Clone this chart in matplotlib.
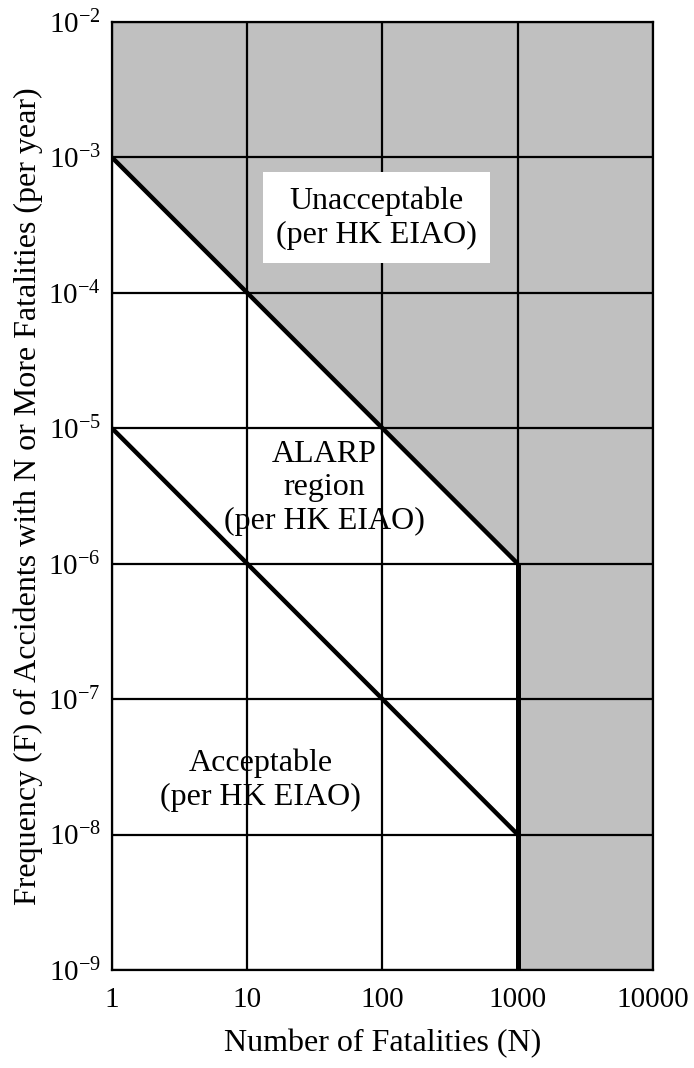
import matplotlib
matplotlib.use('Agg')
import matplotlib.pyplot as plt
from matplotlib.patches import Rectangle

plt.rcParams['font.family'] = ['Liberation Serif', 'DejaVu Serif']
plt.rcParams['mathtext.fontset'] = 'custom'
plt.rcParams['mathtext.rm'] = 'Liberation Serif'

# criterion lines (N, F)
upper_n = [1, 1000]
upper_f = [1e-3, 1e-6]
lower_n = [1, 1000]
lower_f = [1e-5, 1e-8]
cut_n = [1000, 1000]
cut_f = [1e-6, 1e-9]

# shaded unacceptable region boundary
shade_n = [1, 1000, 1000, 10000]
shade_f = [1e-3, 1e-6, 1e-9, 1e-9]

x_ticks = [1, 10, 100, 1000, 10000]
x_labels = ['1', '10', '100', '1000', '10000']
y_exps = [-9, -8, -7, -6, -5, -4, -3, -2]

fig = plt.figure(figsize=(6.94, 10.68), dpi=100)
ax = fig.add_axes([0.1614, 0.0918, 0.7795, 0.8876])
ax.set_xscale('log')
ax.set_yscale('log')
ax.set_xlim(1, 10000)
ax.set_ylim(1e-9, 1e-2)

ax.fill_between(shade_n, shade_f, 1e-2, color='#c0c0c0', linewidth=0, zorder=1)

ax.set_xticks(x_ticks)
ax.set_xticklabels(x_labels)
ax.set_yticks([10.0 ** e for e in y_exps])
ax.set_yticklabels([r'$\mathregular{10^{%d}}$' % e for e in y_exps])
ax.minorticks_off()
ax.tick_params(length=0, labelsize=21)
ax.tick_params(axis='x', pad=12)
ax.tick_params(axis='y', pad=8)
ax.grid(True, color='black', linewidth=1.6, zorder=2)
ax.set_axisbelow(False)
for s in ax.spines.values():
    s.set_linewidth(1.6)
    s.set_zorder(3)

ax.plot(upper_n, upper_f, color='black', linewidth=3.2, zorder=4, solid_capstyle='butt')
ax.plot(lower_n, lower_f, color='black', linewidth=3.2, zorder=4, solid_capstyle='butt')
ax.plot(cut_n, cut_f, color='black', linewidth=3.6, zorder=4, solid_capstyle='butt')

# white label box behind "Unacceptable"
ax.add_patch(Rectangle((0.279, 0.746), 0.42, 0.096, transform=ax.transAxes,
                       facecolor='white', edgecolor='none', zorder=5))
ax.text(90, 10 ** -3.45, 'Unacceptable\n(per HK EIAO)', ha='center', va='center', fontsize=23,
        linespacing=1.2, zorder=6)
ax.text(37, 10 ** -5.44, 'ALARP\nregion\n(per HK EIAO)', ha='center', va='center', fontsize=23,
        linespacing=1.2, zorder=6)
ax.text(12.6, 10 ** -7.60, 'Acceptable\n(per HK EIAO)', ha='center', va='center', fontsize=23,
        linespacing=1.2, zorder=6)

ax.set_xlabel('Number of Fatalities (N)', fontsize=23, labelpad=12)
ax.set_ylabel('Frequency (F) of Accidents with N or More Fatalities (per year)', fontsize=23, labelpad=4)

fig.savefig('out.png', dpi=100)
